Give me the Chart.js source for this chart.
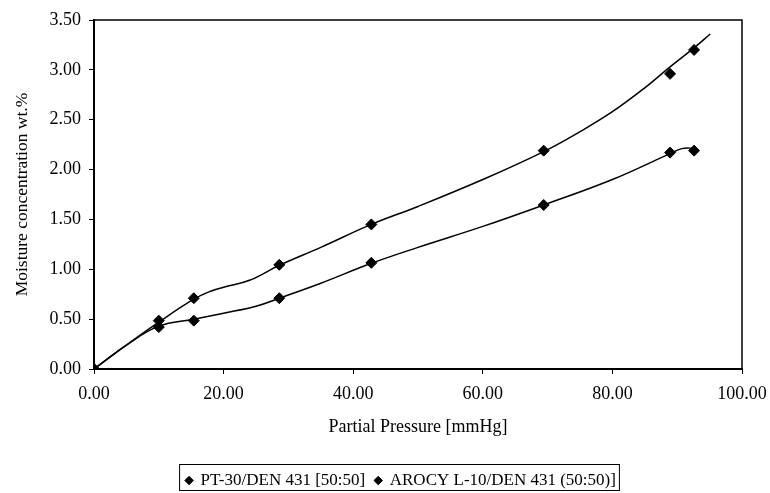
<!DOCTYPE html>
<html>
<head>
<meta charset="utf-8">
<script src="https://cdn.jsdelivr.net/npm/chart.js@4.4.1/dist/chart.umd.min.js"></script>
<style>
  html, body { margin: 0; padding: 0; background: #fff; }
  #wrap { width: 770px; height: 493px; }
</style>
</head>
<body>
<div id="wrap"><canvas id="myChart" width="770" height="493"></canvas></div>
<script>
// measured points
const pressure = [0, 10, 15.4, 28.6, 42.8, 69.4, 88.9, 92.6];
const pt30 = [0, 0.485, 0.71, 1.045, 1.45, 2.19, 2.96, 3.20];
const arocy = [0, 0.42, 0.485, 0.71, 1.065, 1.645, 2.17, 2.19];

// trend curves
const trendX1 = [0, 5, 10, 15.4, 18, 20, 24, 28.6, 35, 42.8, 50, 60, 69.4, 75, 80, 85, 88.9, 92.6, 95.1];
const trendY1 = [0, 0.24, 0.47, 0.70, 0.78, 0.82, 0.89, 1.04, 1.22, 1.45, 1.63, 1.90, 2.18, 2.38, 2.58, 2.82, 3.03, 3.22, 3.36];
const trendX2 = [0, 5, 10, 15.4, 20, 25, 28.6, 35, 42.8, 50, 60, 69.4, 80, 88.9, 90.7, 92, 92.6];
const trendY2 = [0, 0.24, 0.43, 0.50, 0.56, 0.63, 0.71, 0.86, 1.06, 1.22, 1.43, 1.645, 1.90, 2.16, 2.21, 2.215, 2.19];

const seriesNames = ['PT-30/DEN 431 [50:50]', 'AROCY L-10/DEN 431 (50:50)]'];
const xTicks = [0, 20, 40, 60, 80, 100];
const yTicks = [0, 0.5, 1, 1.5, 2, 2.5, 3, 3.5];

const serif = "'Liberation Serif', 'DejaVu Serif', serif";

function pts(xs, ys) {
  return xs.map((x, i) => ({ x: x, y: ys[i] }));
}

// frame on top/right + box round the legend
const framePlugin = {
  id: 'frame',
  afterLayout(chart) {
    // legend sits a bit right of centre and low in the reference
    const lg = chart.legend;
    lg.left += 30; lg.right += 30;
    lg.top += 6; lg.bottom += 6;
  },
  afterDraw(chart) {
    const c = chart.ctx, a = chart.chartArea;
    c.save();
    c.strokeStyle = '#000';
    c.lineWidth = 1.5;
    c.beginPath();
    c.moveTo(a.left, a.top);
    c.lineTo(a.right, a.top);
    c.lineTo(a.right, a.bottom);
    c.stroke();
    const hb = chart.legend.legendHitBoxes;
    if (hb && hb.length) {
      const x0 = hb[0].left - 7;
      const last = hb[hb.length - 1];
      const x1 = last.left + last.width + 3;
      c.lineWidth = 1;
      c.strokeRect(x0 + 0.5, 464.5, x1 - x0, 26);
    }
    c.restore();
  }
};

const ctx = document.getElementById('myChart');

var myChart = new Chart(ctx, {
  type: 'scatter',
  data: {
    datasets: [
      {
        label: seriesNames[0],
        data: pts(pressure, pt30),
        pointStyle: 'rectRot',
        pointRadius: 5.5,
        backgroundColor: '#000',
        borderColor: '#000',
        borderWidth: 1
      },
      {
        label: seriesNames[1],
        data: pts(pressure, arocy),
        pointStyle: 'rectRot',
        pointRadius: 5.5,
        backgroundColor: '#000',
        borderColor: '#000',
        borderWidth: 1
      },
      {
        label: '',
        data: pts(trendX1, trendY1),
        showLine: true,
        pointRadius: 0,
        borderColor: '#000',
        borderWidth: 1.5,
        tension: 0.4
      },
      {
        label: '',
        data: pts(trendX2, trendY2),
        showLine: true,
        pointRadius: 0,
        borderColor: '#000',
        borderWidth: 1.5,
        tension: 0.4
      }
    ]
  },
  options: {
    responsive: false,
    animation: false,
    layout: { padding: { left: 0, right: 28, top: 20, bottom: 0 } },
    plugins: {
      tooltip: { enabled: false },
      legend: {
        position: 'bottom',
        labels: {
          filter: (item) => item.text !== '',
          usePointStyle: true,
          pointStyle: 'rectRot',
          boxWidth: 6,
          boxHeight: 6,
          padding: 10,
          color: '#000',
          font: { family: serif, size: 17 }
        }
      }
    },
    scales: {
      x: {
        type: 'linear',
        min: 0,
        max: 100,
        afterBuildTicks: (s) => { s.ticks = xTicks.map(v => ({ value: v })); },
        afterFit: (s) => {
          s.height = 493 - 369 - s.chart.legend.height;
          s.paddingRight = 0;
          s.paddingLeft = 0;
        },
        ticks: {
          color: '#000',
          padding: 9,
          font: { family: serif, size: 18 },
          callback: (v) => v.toFixed(2)
        },
        grid: { display: true, drawOnChartArea: false, drawTicks: true, tickLength: 5, color: '#000', lineWidth: 1 },
        border: { display: true, color: '#000', width: 2 },
        title: {
          display: true,
          text: 'Partial Pressure [mmHg]',
          color: '#000',
          font: { family: serif, size: 18 },
          padding: { top: 4, bottom: 18 }
        }
      },
      y: {
        min: 0,
        max: 3.5,
        afterBuildTicks: (s) => { s.ticks = yTicks.map(v => ({ value: v })); },
        afterFit: (s) => { s.width = 94; },
        ticks: {
          color: '#000',
          padding: 8,
          font: { family: serif, size: 18 },
          callback: (v) => v.toFixed(2)
        },
        grid: { display: true, drawOnChartArea: false, drawTicks: true, tickLength: 5, color: '#000', lineWidth: 1 },
        border: { display: true, color: '#000', width: 2 },
        title: {
          display: true,
          text: 'Moisture concentration wt.%',
          color: '#000',
          font: { family: serif, size: 17.5 },
          padding: { top: 12, bottom: 0 }
        }
      }
    }
  },
  plugins: [framePlugin]
});
</script>
</body>
</html>
